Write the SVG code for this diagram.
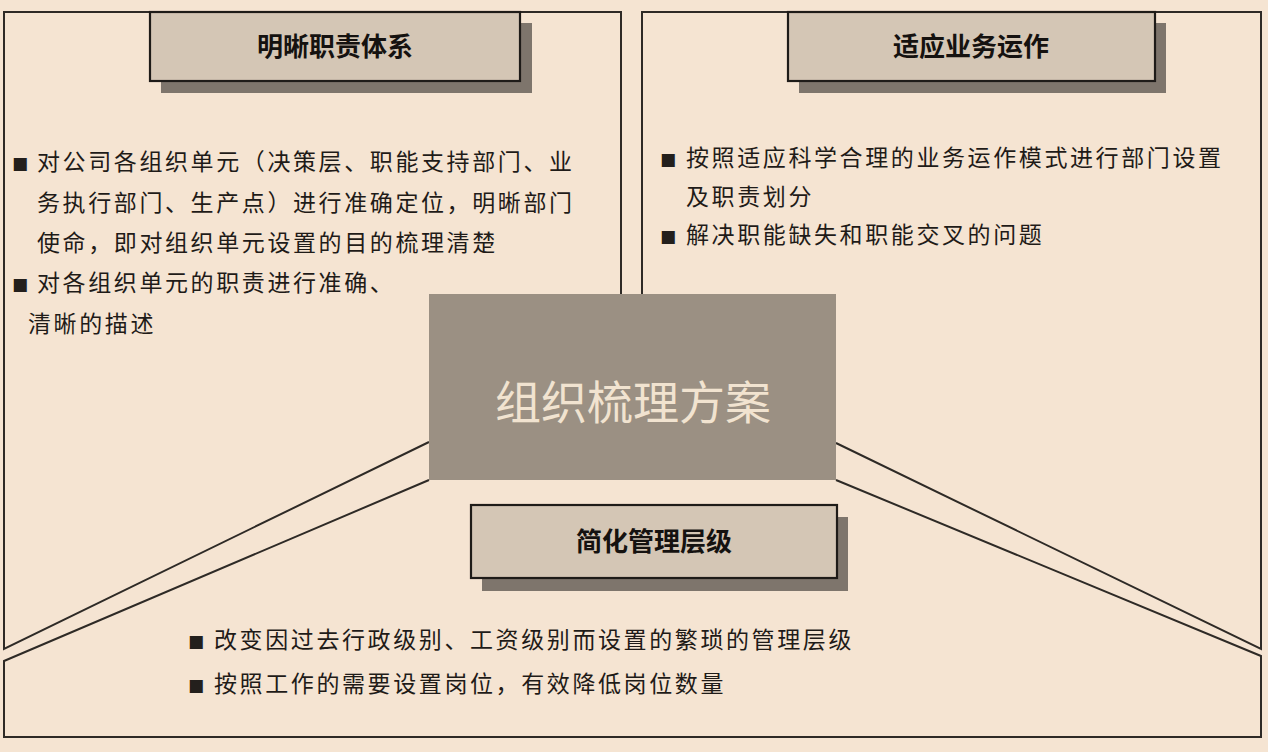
<svg xmlns="http://www.w3.org/2000/svg" width="1268" height="752" viewBox="0 0 1268 752">
<style>
.panel{fill:none;stroke:#2e2a26;stroke-width:2;stroke-linejoin:miter}
.hdr{fill:#d4c6b5;stroke:#1e1b18;stroke-width:2.2}
.shadow{fill:#7e756c}
.htxt{font-family:"Noto Sans CJK SC","Noto Sans",sans-serif;font-size:26px;font-weight:bold;fill:#151210;text-anchor:middle}
.body{font-family:"Noto Sans CJK SC","Noto Sans",sans-serif;font-size:23px;fill:#1f1b18;letter-spacing:2.6px}
.blt{font-family:"DejaVu Sans",sans-serif;font-size:17px;fill:#231f1c}
</style>
<rect x="0" y="0" width="1268" height="752" fill="#f5e4d2"/>
<g id="panel-top-left">
<polyline class="panel" points="621,294 621,12 4,12 4,649 429,442"/>
<rect class="shadow" x="161" y="23" width="371" height="70"/>
<rect class="hdr" x="150" y="12" width="370" height="69"/>
<text class="htxt" x="335" y="56">明晰职责体系</text>
<text class="blt" x="12" y="169">■</text>
<text class="body" x="37" y="170">对公司各组织单元（决策层、职能支持部门、业</text>
<text class="body" x="37" y="211">务执行部门、生产点）进行准确定位，明晰部门</text>
<text class="body" x="37" y="251">使命，即对组织单元设置的目的梳理清楚</text>
<text class="blt" x="12" y="290">■</text>
<text class="body" x="37" y="291">对各组织单元的职责进行准确、</text>
<text class="body" x="28" y="332">清晰的描述</text>
</g>
<g id="panel-top-right">
<polyline class="panel" points="642,294 642,12 1261,12 1261,649 836,443"/>
<rect class="shadow" x="799" y="23" width="367" height="70"/>
<rect class="hdr" x="788" y="12" width="367" height="69"/>
<text class="htxt" x="971" y="56">适应业务运作</text>
<text class="blt" x="660" y="165">■</text>
<text class="body" x="686" y="166">按照适应科学合理的业务运作模式进行部门设置</text>
<text class="body" x="686" y="205">及职责划分</text>
<text class="blt" x="660" y="242">■</text>
<text class="body" x="686" y="243">解决职能缺失和职能交叉的问题</text>
</g>
<g id="panel-bottom">
<polyline class="panel" points="429,480 4,661 4,737 1261,737 1261,656 836,480"/>
<rect class="shadow" x="482" y="517" width="366" height="74"/>
<rect class="hdr" x="471" y="505" width="366" height="73"/>
<text class="htxt" x="654" y="551">简化管理层级</text>
<text class="blt" x="188" y="647">■</text>
<text class="body" x="214" y="648">改变因过去行政级别、工资级别而设置的繁琐的管理层级</text>
<text class="blt" x="188" y="691">■</text>
<text class="body" x="214" y="692">按照工作的需要设置岗位，有效降低岗位数量</text>
</g>
<g id="center">
<rect x="429" y="294" width="407" height="186" fill="#9b9083"/>
<text x="633" y="419" font-family="Noto Sans CJK SC,Noto Sans,sans-serif" font-size="46" fill="#f1e3d0" text-anchor="middle">组织梳理方案</text>
</g>
<g id="connectors"></g>
</svg>
